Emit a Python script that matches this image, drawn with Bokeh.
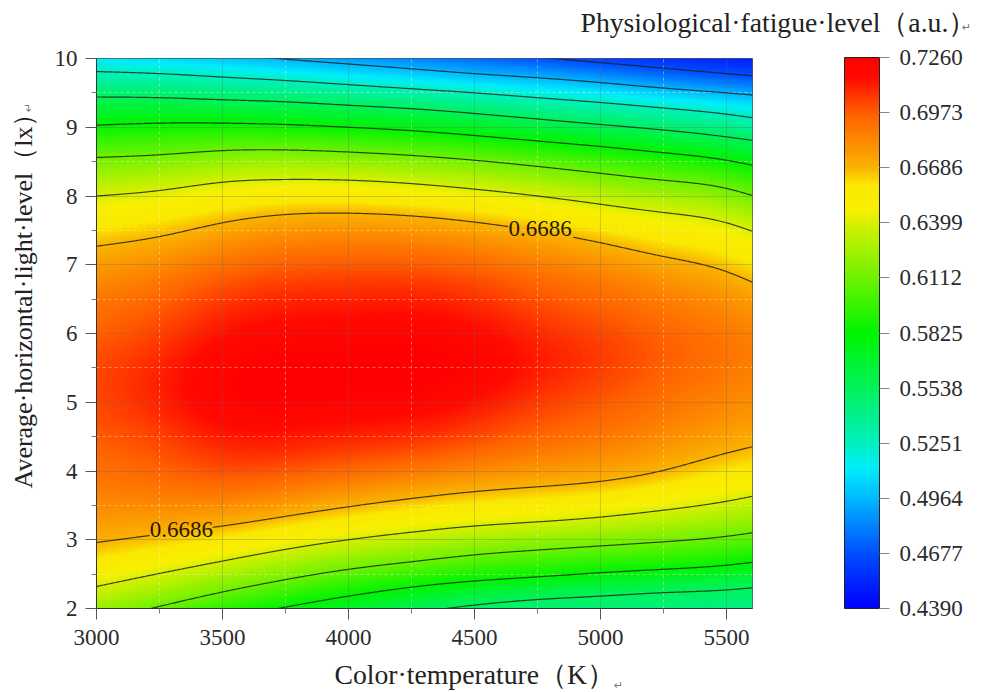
import numpy as np
from bokeh.plotting import figure
from bokeh.embed import file_html
from bokeh.resources import INLINE
from bokeh.models import (ColorBar, FixedTicker, Label, LinearColorMapper,
                          NumeralTickFormatter, Range1d)

# ---------- values ----------
color_temperature = [3000, 3250, 3500, 3750, 4000, 4250, 4500, 4750, 5000, 5250, 5500, 5600]

# height (lx) of each contour at each colour temperature; above the ridge
upper_6686 = [7.27, 7.41, 7.61, 7.73, 7.75, 7.71, 7.62, 7.49, 7.32, 7.12, 6.90, 6.75]
upper_6399 = [8.00, 8.08, 8.20, 8.24, 8.23, 8.18, 8.10, 8.00, 7.88, 7.76, 7.61, 7.49]
upper_6112 = [8.56, 8.60, 8.66, 8.67, 8.64, 8.59, 8.52, 8.43, 8.33, 8.23, 8.11, 8.01]
upper_5825 = [9.03, 9.06, 9.06, 9.04, 9.00, 8.95, 8.88, 8.80, 8.72, 8.63, 8.52, 8.45]
upper_5538 = [9.44, 9.43, 9.40, 9.37, 9.32, 9.27, 9.20, 9.12, 9.04, 8.96, 8.86, 8.81]
upper_5251 = [9.81, 9.78, 9.73, 9.68, 9.62, 9.56, 9.50, 9.43, 9.36, 9.28, 9.19, 9.14]
upper_4964 = [10.2, 10.15, 10.07, 9.99, 9.92, 9.85, 9.78, 9.72, 9.65, 9.57, 9.50, 9.47]
upper_4677 = [10.6, 10.55, 10.5, 10.4, 10.3, 10.2, 10.1, 10.02, 9.94, 9.86, 9.78, 9.75]

# below the ridge
lower_6686 = [2.96, 3.08, 3.20, 3.34, 3.48, 3.60, 3.70, 3.77, 3.85, 4.01, 4.26, 4.35]
lower_6399 = [2.32, 2.51, 2.69, 2.86, 3.00, 3.11, 3.20, 3.26, 3.33, 3.43, 3.56, 3.63]
lower_6112 = [1.80, 2.03, 2.24, 2.42, 2.57, 2.68, 2.78, 2.85, 2.91, 2.97, 3.05, 3.10]
lower_5825 = [1.40, 1.60, 1.83, 2.02, 2.18, 2.31, 2.40, 2.46, 2.52, 2.57, 2.63, 2.67]
lower_5538 = [1.00, 1.15, 1.30, 1.50, 1.72, 1.92, 2.05, 2.13, 2.18, 2.23, 2.27, 2.30]

# ridge of the surface: where it peaks and how high, at each colour temperature
ridge_height = [5.25, 5.25, 5.25, 5.32, 5.40, 5.47, 5.55, 5.60, 5.65, 5.70, 5.74, 5.75]
ridge_value = [0.703, 0.711, 0.722, 0.726, 0.726, 0.726, 0.721, 0.712, 0.705, 0.697, 0.690, 0.687]

upper_levels = [0.6686, 0.6399, 0.6112, 0.5825, 0.5538, 0.5251, 0.4964, 0.4677]
lower_levels = [0.5538, 0.5825, 0.6112, 0.6399, 0.6686]

colorbar_ticks = [0.4390, 0.4677, 0.4964, 0.5251, 0.5538, 0.5825, 0.6112, 0.6399, 0.6686, 0.6973, 0.7260]
x_ticks = [3000, 3500, 4000, 4500, 5000, 5500]
x_minor_ticks = [3250, 3750, 4250, 4750, 5250]
y_ticks = [2, 3, 4, 5, 6, 7, 8, 9, 10]
y_minor_ticks = [2.5, 3.5, 4.5, 5.5, 6.5, 7.5, 8.5, 9.5]

# colours
stop_values = [0.439, 0.4677, 0.4964, 0.512, 0.5251, 0.5538, 0.5825, 0.6112, 0.6399, 0.647, 0.660, 0.6686, 0.6973, 0.716, 0.726]
stop_colors = [(0, 0, 255), (0, 80, 255), (0, 185, 255), (0, 238, 250), (0, 240, 190), (0, 242, 90),
               (0, 245, 0), (110, 242, 0), (215, 240, 0), (248, 240, 0), (250, 232, 0), (250, 180, 0),
               (255, 95, 0), (255, 10, 0), (255, 0, 0)]

X_LABEL = "Color·temperature（K）"
Y_LABEL = "Average·horizontal·light·level（lx）"
BAR_TITLE = "Physiological·fatigue·level（a.u.）"
RETURN_MARK = "↵"
SERIF = "Liberation Serif"
INK = "#2b2b2b"


def pchip(xk, yk, xq):
    """Monotone cubic through read knots, used only to draw them smoothly."""
    xk, yk = np.asarray(xk, float), np.asarray(yk, float)
    h = np.diff(xk)
    s = np.diff(yk) / h
    d = np.zeros_like(yk)
    both = s[:-1] * s[1:] > 0
    w1 = 2 * h[1:] + h[:-1]
    w2 = h[1:] + 2 * h[:-1]
    d[1:-1][both] = (w1[both] + w2[both]) / (w1[both] / s[:-1][both] + w2[both] / s[1:][both])
    d[0], d[-1] = s[0], s[-1]
    q = np.clip(xq, xk[0], xk[-1])
    i = np.clip(np.searchsorted(xk, q) - 1, 0, len(h) - 1)
    t = (q - xk[i]) / h[i]
    return ((2 * t**3 - 3 * t**2 + 1) * yk[i] + (t**3 - 2 * t**2 + t) * h[i] * d[i]
            + (-2 * t**3 + 3 * t**2) * yk[i + 1] + (t**3 - t**2) * h[i] * d[i + 1])


def spline(xk, yk, xq):
    """Natural cubic spline through read knots, so that drawn curves are round."""
    xk, yk = np.asarray(xk, float), np.asarray(yk, float)
    n = len(xk)
    h = np.diff(xk)
    A = np.zeros((n, n))
    b = np.zeros(n)
    A[0, 0] = A[-1, -1] = 1
    for k in range(1, n - 1):
        A[k, k - 1], A[k, k], A[k, k + 1] = h[k - 1], 2 * (h[k - 1] + h[k]), h[k]
        b[k] = 6 * ((yk[k + 1] - yk[k]) / h[k] - (yk[k] - yk[k - 1]) / h[k - 1])
    m = np.linalg.solve(A, b)
    q = np.clip(xq, xk[0], xk[-1])
    i = np.clip(np.searchsorted(xk, q) - 1, 0, n - 2)
    a1, a0 = xk[i + 1] - q, q - xk[i]
    return (m[i] * a1**3 + m[i + 1] * a0**3) / (6 * h[i]) + (yk[i] / h[i] - m[i] * h[i] / 6) * a1 \
        + (yk[i + 1] / h[i] - m[i + 1] * h[i] / 6) * a0


uppers = [upper_6686, upper_6399, upper_6112, upper_5825, upper_5538, upper_5251, upper_4964, upper_4677]
lowers = [lower_5538, lower_5825, lower_6112, lower_6399, lower_6686]

X_END = 5603
NX, NY = 656, 550
col_x = np.linspace(3000, X_END, NX)
row_y = np.linspace(2, 10, NY)

fine_upper = [spline(color_temperature, c, col_x) for c in uppers]
fine_lower = [spline(color_temperature, c, col_x) for c in lowers]
fine_ridge_y = spline(color_temperature, ridge_height, col_x)
fine_ridge_v = spline(color_temperature, ridge_value, col_x)

MID_DROP = 0.30
field = np.zeros((NY, NX))
for j in range(NX):
    ry, rv = fine_ridge_y[j], fine_ridge_v[j]
    low_mid = (ry + fine_lower[-1][j]) / 2
    up_mid = (ry + fine_upper[0][j]) / 2
    mid_v = rv + MID_DROP * (0.6686 - rv)
    ys = [0.0] + [c[j] for c in fine_lower] + [low_mid, ry, up_mid] + [c[j] for c in fine_upper] + [11.0]
    vs = [0.50] + lower_levels + [mid_v, rv, mid_v] + upper_levels + [0.40]
    field[:, j] = pchip(ys, vs, row_y)

stops = np.array(stop_colors, float)
steps = np.linspace(colorbar_ticks[0], colorbar_ticks[-1], 256)
palette = ["#%02x%02x%02x" % tuple(int(round(np.interp(t, stop_values, stops[:, k]))) for k in range(3))
           for t in steps]
mapper = LinearColorMapper(palette=palette, low=colorbar_ticks[0], high=colorbar_ticks[-1])

p = figure(width=989, height=692, frame_width=656, frame_height=550,
           min_border_left=96, min_border_top=58, min_border_bottom=84, min_border_right=237,
           x_range=Range1d(3000, X_END), y_range=Range1d(2, 10),
           output_backend="svg", toolbar_location=None, border_fill_color="white",
           background_fill_color="white")

p.image(image=[field], x=3000, y=2, dw=X_END - 3000, dh=8, color_mapper=mapper, level="image")

# contours, with a gap where their value is written
xs, ys = [], []
for c in fine_upper + fine_lower:
    xs.append(col_x)
    ys.append(c)
label_upper = (4635, 4889, 4760, 7.53)
label_lower = (3214, 3460, 3337, 3.15)
for idx, lab in ((0, label_upper), (len(fine_upper) + 4, label_lower)):
    gap = ys[idx].copy()
    gap[(col_x > lab[0]) & (col_x < lab[1])] = np.nan
    ys[idx] = gap
p.multi_line(xs, ys, line_color="#1c1c14", line_width=1.2, line_alpha=0.8)

for lab in (label_upper, label_lower):
    p.add_layout(Label(x=lab[2], y=lab[3], text="0.6686", text_font=SERIF, text_font_size="23px",
                       text_color="#1f1a00", text_align="center", text_baseline="middle"))

for axis, major, minor in ((p.xaxis, x_ticks, x_minor_ticks), (p.yaxis, y_ticks, y_minor_ticks)):
    axis.ticker = FixedTicker(ticks=major, minor_ticks=minor)
    axis.major_tick_in = 0
    axis.major_tick_out = 11
    axis.minor_tick_in = 0
    axis.minor_tick_out = 5
    axis.axis_line_color = "#333333"
    axis.major_tick_line_color = "#555555"
    axis.minor_tick_line_color = "#777777"
    axis.major_label_text_font = SERIF
    axis.major_label_text_font_size = "23px"
    axis.major_label_text_color = INK

p.xaxis.major_label_standoff = 10
p.yaxis.major_label_standoff = 8

for grid in (p.xgrid, p.ygrid):
    grid.grid_line_color = "#666666"
    grid.grid_line_alpha = 0.3
    grid.minor_grid_line_color = "#fff6d0"
    grid.minor_grid_line_alpha = 0.4
    grid.minor_grid_line_dash = "3 3"
p.xgrid.ticker = FixedTicker(ticks=x_ticks, minor_ticks=x_minor_ticks)
p.ygrid.ticker = FixedTicker(ticks=y_ticks, minor_ticks=y_minor_ticks)
p.outline_line_color = "#555555"

bar = ColorBar(color_mapper=mapper, location=(748, 0), width=35, height=551, margin=0, padding=0,
               ticker=FixedTicker(ticks=colorbar_ticks),
               formatter=NumeralTickFormatter(format="0.0000"),
               major_tick_in=0, major_tick_out=10, major_tick_line_color="#888888",
               minor_tick_line_color=None, bar_line_color="#222222", bar_line_width=1,
               label_standoff=10, major_label_text_font=SERIF, major_label_text_font_size="23px",
               major_label_text_color=INK, background_fill_color=None, border_line_color=None)
p.add_layout(bar)


def side_text(side, x, y, text, size, font=SERIF, color="#222222", angle=0.0, align="left"):
    p.add_layout(Label(x=x, y=y, x_units="screen", y_units="screen", text=text, text_font=font,
                       text_font_size=size, text_color=color, text_baseline="middle",
                       text_align=align, angle=angle), side)


# axis titles and marks, in the side panels; offsets from each panel's corner
side_text("above", 484, 36, BAR_TITLE, "27.7px")
side_text("above", 870, 0, RETURN_MARK, "11px", font="DejaVu Sans", color="#777777", align="center")
side_text("below", 238, 4, X_LABEL, "27.7px")
side_text("below", 522, 6, RETURN_MARK, "11px", font="DejaVu Sans", color="#777777", align="center")
side_text("left", 1, 314, Y_LABEL, "26px", angle=np.pi / 2, align="center")
side_text("left", 19, 501, RETURN_MARK, "11px", font="DejaVu Sans", color="#777777",
          angle=np.pi / 2, align="center")
open("out.html", "w").write(file_html(p, INLINE))
